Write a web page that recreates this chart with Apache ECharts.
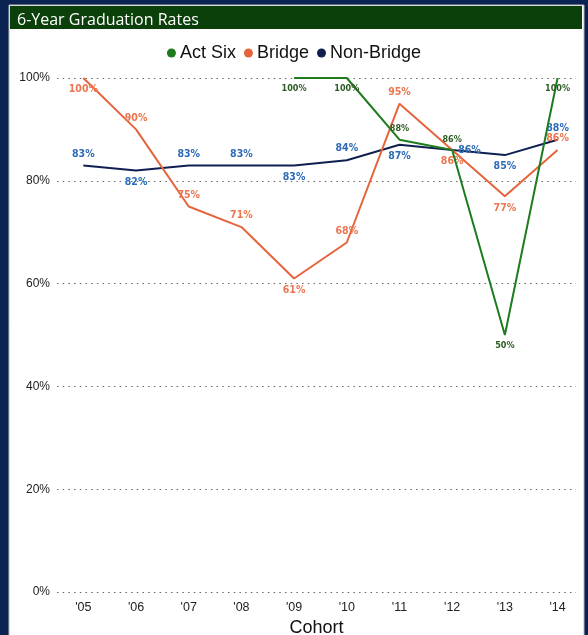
<!DOCTYPE html>
<html>
<head>
<meta charset="utf-8">
<script src="https://cdn.jsdelivr.net/npm/echarts@6/dist/echarts.min.js"></script>
<style>
html,body{margin:0;padding:0;background:#0b2353;}
#c{width:588px;height:635px;}
</style>
</head>
<body>
<div id="c"></div>
<script>
// ---- data ----
const categories = ["'05","'06","'07","'08","'09","'10","'11","'12","'13","'14"];
const actSix    = [null, null, null, null, 100, 100, 88, 86, 50, 100];
const bridge    = [100, 90, 75, 71, 61, 68, 95, 86, 77, 86];
const nonBridge = [83, 82, 83, 83, 83, 84, 87, 86, 85, 88];
const yTicks    = [0, 20, 40, 60, 80, 100];

// ---- label placement (style only) ----
const actPos    = ['bottom','bottom','bottom','bottom','bottom','bottom','top','top','bottom','bottom'];
const bridgePos = ['bottom','top','top','top','bottom','top','top','bottom','bottom','top'];
const nbPos     = ['top','bottom','top','top','bottom','top','bottom','right','bottom','top'];

function build(arr, pos){
  return categories.map((c, i) => ({
    value: [i, arr[i] == null ? '-' : arr[i]],
    label: { position: pos[i] }
  }));
}

const chart = echarts.init(document.getElementById('c'), null, {renderer: 'canvas'});
const labelFont = 'DejaVu Sans Condensed';

chart.setOption({
  backgroundColor: '#0b2353',
  animation: false,
  graphic: [
    { type: 'rect', shape: { x: 9, y: 5, width: 575, height: 640 },
      style: { fill: '#ffffff', stroke: '#b8b8b8', lineWidth: 1 }, z: -10 },
    { type: 'rect', shape: { x: 10, y: 6, width: 572, height: 23 },
      style: { fill: '#0b400b' }, z: -9 }
  ],
  title: {
    text: '6-Year Graduation Rates',
    left: 12, top: 7,
    textStyle: { color: '#ffffff', fontSize: 16, fontWeight: 'normal', fontFamily: 'Open Sans' }
  },
  legend: {
    top: 39, left: 'center',
    icon: 'circle', itemWidth: 9, itemHeight: 9, itemGap: 8,
    textStyle: { color: '#111', fontSize: 18, fontFamily: 'Liberation Sans', padding: [0, 0, 0, -1] },
    data: ['Act Six', 'Bridge', 'Non-Bridge']
  },
  grid: { left: 57, right: 12, top: 78, height: 514, containLabel: false, outerBoundsMode: 'none' },
  xAxis: {
    type: 'value', min: -0.5, max: 9.35, interval: 0.5,
    name: 'Cohort', nameLocation: 'middle', nameGap: 25,
    nameTextStyle: { color: '#111', fontSize: 18, fontFamily: 'Liberation Sans' },
    axisLine: { show: false }, axisTick: { show: false }, splitLine: { show: false },
    axisLabel: {
      color: '#222', fontSize: 12.5, fontFamily: 'Liberation Sans', margin: 9,
      hideOverlap: false,
      formatter: v => (Math.abs(v - Math.round(v)) < 1e-6 && categories[Math.round(v)] !== undefined) ? categories[Math.round(v)] : ''
    }
  },
  yAxis: {
    type: 'value', min: 0, max: 100, interval: 20,
    axisLine: { show: false }, axisTick: { show: false },
    axisLabel: { color: '#222', fontSize: 12, fontFamily: 'Liberation Sans', margin: 7,
      formatter: v => yTicks.includes(v) ? v + '%' : '' },
    splitLine: { show: true, lineStyle: { color: '#666', width: 1, type: [1.5, 4.2] } }
  },
  series: [
    {
      name: 'Act Six', type: 'line', data: build(actSix, actPos),
      color: '#1e7b1e', lineStyle: { width: 2, color: '#1e7b1e' },
      symbol: 'circle', symbolSize: 0.1, connectNulls: false,
      label: { show: true, formatter: p => p.value[1] + '%', color: '#2b5a22',
        fontSize: 9, fontFamily: labelFont, fontWeight: 'bold', distance: 6 },
      z: 3
    },
    {
      name: 'Bridge', type: 'line', data: build(bridge, bridgePos),
      color: '#e5643c', lineStyle: { width: 2, color: '#e5643c' },
      symbol: 'circle', symbolSize: 0.1,
      label: { show: true, formatter: p => p.value[1] + '%', color: '#ec7650',
        fontSize: 10.5, fontFamily: labelFont, fontWeight: 'bold', distance: 6 },
      z: 2
    },
    {
      name: 'Non-Bridge', type: 'line', data: build(nonBridge, nbPos),
      color: '#0f1f50', lineStyle: { width: 2, color: '#0f1f50' },
      symbol: 'circle', symbolSize: 0.1,
      label: { show: true, formatter: p => p.value[1] + '%', color: '#2d6bb8',
        fontSize: 10.5, fontFamily: labelFont, fontWeight: 'bold', distance: 6 },
      z: 1
    }
  ]
});
</script>
</body>
</html>
